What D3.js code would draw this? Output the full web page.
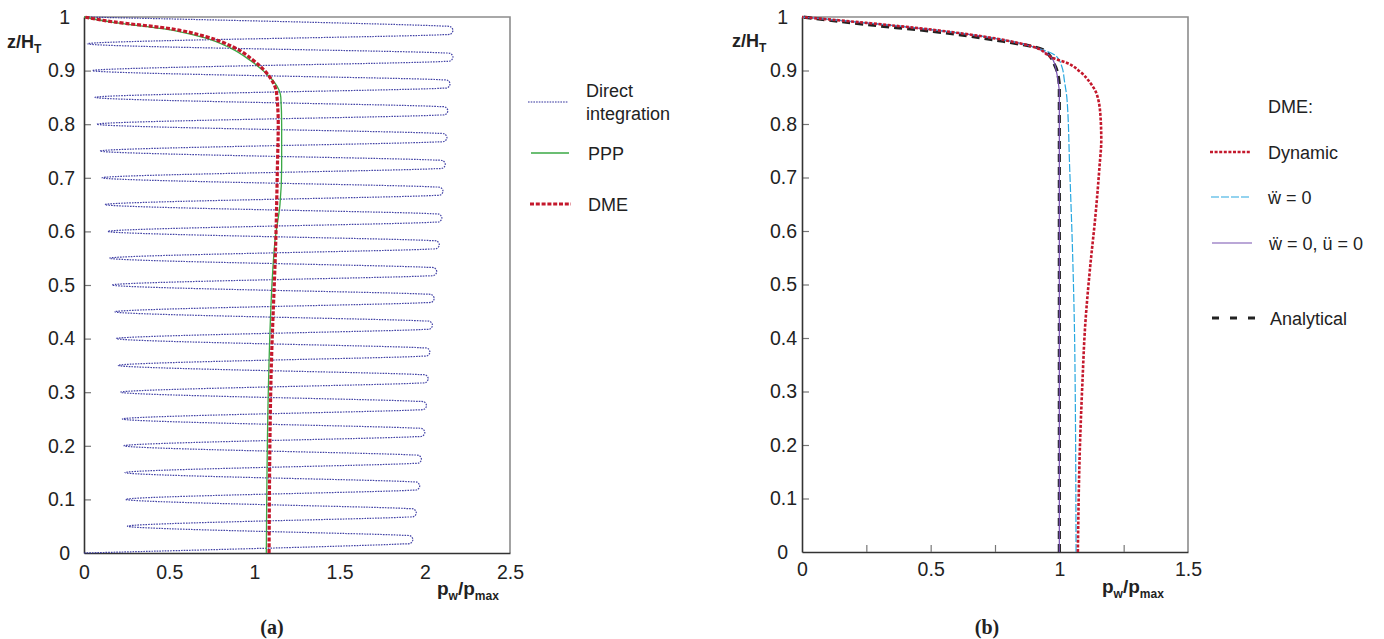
<!DOCTYPE html>
<html>
<head>
<meta charset="utf-8">
<script src="https://cdn.jsdelivr.net/npm/d3@7"></script>
<style>
    body { margin: 0; background: #fff; }
    svg text { font-family: "Liberation Sans", Arial, sans-serif; fill: #222; }
</style>
</head>
<body>
<svg id="chart" width="1384" height="639"></svg>
<script>

//
// DATA
//

const yTicks = [0, 0.1, 0.2, 0.3, 0.4, 0.5, 0.6, 0.7, 0.8, 0.9, 1];
const yMinor = [0.1, 0.2, 0.3, 0.4, 0.5, 0.6, 0.7, 0.8, 0.9];
const xTicksA = [0, 0.5, 1, 1.5, 2, 2.5];
const xTicksB = [0, 0.5, 1, 1.5];
const xMinorB = [0.25, 0.5, 0.75, 1, 1.25];

// (a) direct integration: left turning points and right-hand swing ends
const diTurnZ = [0, 0.05, 0.1, 0.15, 0.2, 0.25, 0.3, 0.35, 0.4, 0.45, 0.5, 0.55, 0.6, 0.65, 0.7, 0.75, 0.8, 0.85, 0.9, 0.95, 1];
const diTurnX = [0, 0.255, 0.245, 0.24, 0.235, 0.225, 0.215, 0.2, 0.19, 0.18, 0.165, 0.15, 0.14, 0.123, 0.106, 0.094, 0.075, 0.065, 0.05, 0.02, 0];
const diTipZ = [0.025, 0.075, 0.125, 0.175, 0.225, 0.275, 0.325, 0.375, 0.425, 0.475, 0.525, 0.575, 0.625, 0.675, 0.725, 0.775, 0.825, 0.875, 0.925, 0.975];
const diTipX = [1.93, 1.95, 1.97, 1.98, 2.0, 2.01, 2.02, 2.03, 2.045, 2.055, 2.07, 2.085, 2.1, 2.107, 2.12, 2.13, 2.135, 2.148, 2.165, 2.165];

// (a) PPP
const pppZ = [0, 0.32, 0.58, 0.65, 0.72, 0.8, 0.85, 0.877, 0.888, 0.918, 0.942, 0.962, 0.978, 0.99, 1];
const pppX = [1.07, 1.083, 1.12, 1.15, 1.16, 1.16, 1.155, 1.12, 1.09, 0.98, 0.86, 0.70, 0.47, 0.17, 0];

// (a) DME
const dmeZ = [0, 0.32, 0.6, 0.72, 0.8, 0.858, 0.888, 0.92, 0.944, 0.963, 0.979, 0.991, 1];
const dmeX = [1.086, 1.097, 1.127, 1.135, 1.14, 1.13, 1.09, 0.99, 0.875, 0.72, 0.49, 0.17, 0];

// (b) DME variants and analytical
const dynZ = [0, 0.197, 0.32, 0.42, 0.534, 0.627, 0.72, 0.77, 0.814, 0.855, 0.877, 0.898, 0.914, 0.923, 0.944, 0.96, 0.976, 0.989, 1];
const dynX = [1.072, 1.08, 1.09, 1.10, 1.12, 1.14, 1.156, 1.163, 1.16, 1.146, 1.12, 1.08, 1.03, 0.977, 0.9, 0.75, 0.51, 0.25, 0];

const wZ = [0, 0.379, 0.534, 0.72, 0.845, 0.88, 0.907, 0.926, 0.944, 0.96, 0.976, 0.989, 1];
const wX = [1.065, 1.06, 1.053, 1.04, 1.03, 1.02, 1.01, 0.99, 0.9, 0.75, 0.51, 0.25, 0];

const wuZ = [0, 0.86, 0.87, 0.895, 0.92, 0.929, 0.944, 0.96, 0.976, 0.989, 1];
const wuX = [1.0, 1.0, 0.998, 0.99, 0.975, 0.96, 0.9, 0.75, 0.51, 0.25, 0];

const anZ = [0, 0.87, 0.882, 0.907, 0.938, 0.957, 0.973, 0.986, 1];
const anX = [1.0, 1.0, 0.998, 0.985, 0.94, 0.75, 0.51, 0.25, 0];

//
// SETUP
//

const svg = d3.select("#chart");

const xA = d3.scaleLinear().domain([0, 2.5]).range([84, 510]);
const yA = d3.scaleLinear().domain([0, 1]).range([553, 17]);
const xB = d3.scaleLinear().domain([0, 1.5]).range([802, 1188]);
const yB = d3.scaleLinear().domain([0, 1]).range([552, 17]);

const zip = (xs, zs) => xs.map((x, i) => [x, zs[i]]);

//
// FRAME
//

function drawFrame(x, y, xTicks, opts) {

    let g = svg.append("g");

    // grey top / right border
    g.append("path")
        .attr("d", `M${x(x.domain()[0])},${y(1)}H${x(x.domain()[1])}V${y(0)}`)
        .attr("fill", "none")
        .attr("stroke", "#8c8c8c")
        .attr("stroke-width", 1.6);

    // inner y ticks
    g.append("g")
        .attr("transform", `translate(${x(0)},0)`)
        .call(d3.axisLeft(y).tickValues(yMinor).tickSizeInner(-7).tickSizeOuter(0).tickFormat(""))
        .call(s => s.select(".domain").remove())
        .selectAll("line")
            .attr("stroke", "#777")
            .attr("stroke-width", 1.2);

    // y labels + axis line
    let yAxis = g.append("g")
        .attr("transform", `translate(${x(0)},0)`)
        .call(d3.axisLeft(y).tickValues(yTicks).tickSize(0).tickPadding(opts.yPad).tickFormat(d3.format("")));

    yAxis.select(".domain").attr("stroke", "#333").attr("stroke-width", 1.6);
    yAxis.selectAll("text")
        .attr("dx", d => Number.isInteger(d) ? opts.intShift : 0)
        .style("font-size", "19.5px")
        .style("fill", "#222");

    // x labels + axis line
    let xAxis = g.append("g")
        .attr("transform", `translate(0,${y(0)})`)
        .call(d3.axisBottom(x).tickValues(xTicks).tickSize(0).tickPadding(opts.xPad).tickFormat(d3.format("")));

    xAxis.select(".domain").attr("stroke", "#333").attr("stroke-width", 1.6);
    xAxis.selectAll("text")
        .style("font-size", "19.5px")
        .style("fill", "#222");

    if (opts.xMinor) {
        g.append("g")
            .attr("transform", `translate(0,${y(0)})`)
            .call(d3.axisBottom(x).tickValues(opts.xMinor).tickSizeInner(-7).tickSizeOuter(0).tickFormat(""))
            .call(s => s.select(".domain").remove())
            .selectAll("line")
                .attr("stroke", "#777")
                .attr("stroke-width", 1.2);
    }
}

function drawTitles(yx, yy, px, py, cap, capX) {

    let t = svg.append("text")
        .attr("x", yx)
        .attr("y", yy)
        .style("font-size", "18px")
        .style("font-weight", "bold");
    t.append("tspan").text("z/H");
    t.append("tspan").attr("dy", 5).style("font-size", "12px").text("T");

    let p = svg.append("text")
        .attr("x", px)
        .attr("y", py)
        .style("font-size", "19px")
        .style("font-weight", "bold");
    p.append("tspan").text("p");
    p.append("tspan").attr("dy", 5).style("font-size", "12px").text("w");
    p.append("tspan").attr("dy", -5).text("/p");
    p.append("tspan").attr("dy", 5).style("font-size", "12px").text("max");

    svg.append("text")
        .attr("x", capX)
        .attr("y", 634)
        .attr("text-anchor", "middle")
        .style("font-family", "'Liberation Serif', 'Times New Roman', serif")
        .style("font-size", "20px")
        .style("font-weight", "bold")
        .text(cap);
}

function drawCurve(g, x, y, pts, style, curve) {
    g.append("path")
        .datum(pts)
        .attr("fill", "none")
        .attr("stroke", style.color)
        .attr("stroke-width", style.width)
        .attr("stroke-dasharray", style.dash || null)
        .attr("opacity", style.opacity || 1)
        .attr("d", d3.line()
            .x(d => x(d[0]))
            .y(d => y(d[1]))
            .curve(curve || d3.curveMonotoneY)
        );
}

function legendItem(x1, x2, y, style, labels, tx) {
    svg.append("line")
        .attr("x1", x1).attr("x2", x2)
        .attr("y1", y).attr("y2", y)
        .attr("stroke", style.color)
        .attr("stroke-width", style.width)
        .attr("stroke-dasharray", style.dash || null);

    labels.forEach((l, i) => {
        svg.append("text")
            .attr("x", tx)
            .attr("y", y + 6.5 + (i - (labels.length - 1) / 2) * 23)
            .style("font-size", "18px")
            .text(l);
    });
}

//
// STYLES
//

const sDI  = { color: "#2f2f9c", width: 1.2, dash: "1.6 1.1", opacity: 0.9 };
const sPPP = { color: "#3aa845", width: 1.3 };
const sDME = { color: "#c4182c", width: 3.2, dash: "4 1.8" };
const sDyn = { color: "#c4182c", width: 2.6, dash: "3 1.6" };
const sW   = { color: "#29a8e0", width: 1.2, dash: "8 2" };
const sWU  = { color: "#7650b0", width: 1.2 };
const sAn  = { color: "#222", width: 3.2, dash: "8 5" };

//
// PANEL A
//

drawFrame(xA, yA, xTicksA, { yPad: 9, intShift: -5, xPad: 12 });
drawTitles(7, 48, 437, 595, "(a)", 272);

let gA = svg.append("g");

// direct integration zig-zag; each right-hand end gets a small rounded turn
let diPoints = [];
diTipZ.forEach((z, i) => {
    diPoints.push([diTurnX[i], diTurnZ[i]]);
    diPoints.push([diTipX[i] - 0.06, z - 0.008]);
    diPoints.push([diTipX[i] - 0.012, z - 0.0065]);
    diPoints.push([diTipX[i], z]);
    diPoints.push([diTipX[i] - 0.012, z + 0.0065]);
    diPoints.push([diTipX[i] - 0.06, z + 0.008]);
});
diPoints.push([diTurnX[diTurnX.length - 1], diTurnZ[diTurnZ.length - 1]]);

drawCurve(gA, xA, yA, diPoints, sDI, d3.curveCatmullRom.alpha(0.5));
drawCurve(gA, xA, yA, zip(pppX, pppZ), sPPP);
drawCurve(gA, xA, yA, zip(dmeX, dmeZ), sDME);

legendItem(528, 568, 102, sDI, ["Direct", "integration"], 586);
legendItem(531, 569, 153, sPPP, ["PPP"], 588);
legendItem(530, 571, 204, sDME, ["DME"], 588);

//
// PANEL B
//

drawFrame(xB, yB, xTicksB, { yPad: 5, intShift: -9, xPad: 10, xMinor: xMinorB });
drawTitles(732, 47, 1102, 593, "(b)", 987);

let gB = svg.append("g");

drawCurve(gB, xB, yB, zip(anX, anZ), sAn);
drawCurve(gB, xB, yB, zip(wuX, wuZ), sWU);
drawCurve(gB, xB, yB, zip(wX, wZ), sW);
drawCurve(gB, xB, yB, zip(dynX, dynZ), sDyn);

svg.append("text")
    .attr("x", 1268)
    .attr("y", 113)
    .style("font-size", "18px")
    .text("DME:");

legendItem(1210, 1250, 152, sDyn, ["Dynamic"], 1268);
legendItem(1211, 1250, 197, sW, ["ẅ = 0"], 1268);
legendItem(1212, 1252, 243, sWU, ["ẅ = 0, ü = 0"], 1269);
legendItem(1212, 1257, 318, { color: "#222", width: 3.2, dash: "7 11" }, ["Analytical"], 1270);

</script>
</body>
</html>
